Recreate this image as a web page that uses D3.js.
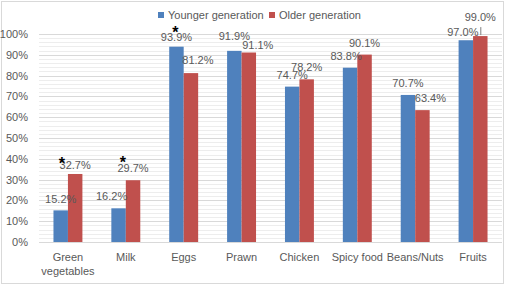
<!DOCTYPE html>
<html>
<head>
<meta charset="utf-8">
<script src="https://cdn.jsdelivr.net/npm/d3@7"></script>
<style>
  html, body { margin: 0; padding: 0; background: #fff; }
  svg { display: block; font-family: "Liberation Sans", Arial, sans-serif; }
</style>
</head>
<body>
<svg width="509" height="285"></svg>
<script>
const categories = ["Green\nvegetables", "Milk", "Eggs", "Prawn", "Chicken", "Spicy food", "Beans/Nuts", "Fruits"];
const younger = [15.2, 16.2, 93.9, 91.9, 74.7, 83.8, 70.7, 97.0];
const older = [32.7, 29.7, 81.2, 91.1, 78.2, 90.1, 63.4, 99.0];
const seriesNames = ["Younger generation", "Older generation"];
const yTicks = [0, 10, 20, 30, 40, 50, 60, 70, 80, 90, 100];
// categories marked as significant (asterisk)
const starred = ["Green\nvegetables", "Milk", "Eggs"];

const svg = d3.select("svg");
const width = +svg.attr("width");
const height = +svg.attr("height");
const margin = { top: 34, right: 7, bottom: 43, left: 39 };
const colors = ["#4F81BD", "#C0504D"];
const textColor = "#595959";

// label nudges (dx, dy) where labels were moved by hand in the original
const nudgeY = [[0, 1], [-7, 0], [0, 2], [0, -3], [0, 0], [-4, 0], [0, 0], [-3, 4]];
const nudgeO = [[0, 3], [0, 0], [7, -1], [9, 4], [0, 0], [0, 0], [8, 0], [0, -7]];

// outer chart border
svg.append("rect")
    .attr("x", 1.5).attr("y", 1.5)
    .attr("width", 502).attr("height", 282)
    .attr("fill", "none")
    .attr("stroke", "#d9d9d9");

const x0 = d3.scaleBand()
    .domain(categories)
    .range([margin.left, width - margin.right])
    .paddingInner(0.5)
    .paddingOuter(0.25);

const x1 = d3.scaleBand()
    .domain([0, 1])
    .range([0, x0.bandwidth()]);

const y = d3.scaleLinear()
    .domain([0, 100])
    .range([height - margin.bottom, margin.top]);

// minor gridlines
svg.append("g")
    .selectAll("line")
    .data(d3.range(0, 101, 2).filter(v => v % 10 !== 0))
    .enter().append("line")
    .attr("x1", margin.left).attr("x2", width - margin.right)
    .attr("y1", d => Math.round(y(d)) + 0.5).attr("y2", d => Math.round(y(d)) + 0.5)
    .attr("stroke", "#ededed");

// major gridlines
svg.append("g")
    .selectAll("line")
    .data(yTicks)
    .enter().append("line")
    .attr("x1", margin.left).attr("x2", width - margin.right)
    .attr("y1", d => Math.round(y(d)) + 0.5).attr("y2", d => Math.round(y(d)) + 0.5)
    .attr("stroke", "#d9d9d9");

// y axis labels
const yAxis = svg.append("g")
    .attr("transform", `translate(${margin.left},0)`)
    .call(d3.axisLeft(y).tickValues(yTicks).tickFormat(d => d + "%").tickSize(0).tickPadding(11));
yAxis.select(".domain").remove();
yAxis.selectAll("text")
    .attr("fill", textColor)
    .style("font-size", "11px")
    .style("font-family", "Liberation Sans, Arial, sans-serif");

// bars
const series = [younger, older];
const groups = svg.append("g")
    .selectAll("g")
    .data(categories)
    .enter().append("g")
    .attr("transform", d => `translate(${x0(d)},0)`);

groups.selectAll("rect")
    .data((d, i) => series.map((s, k) => ({ k, v: s[i] })))
    .enter().append("rect")
    .attr("x", d => x1(d.k))
    .attr("width", x1.bandwidth())
    .attr("y", d => y(d.v))
    .attr("height", d => y(0) - y(d.v))
    .attr("fill", d => colors[d.k]);

// data labels
groups.selectAll("text.val")
    .data((d, i) => series.map((s, k) => ({ k, v: s[i], n: (k === 0 ? nudgeY : nudgeO)[i] })))
    .enter().append("text")
    .attr("class", "val")
    .attr("x", d => x1(d.k) + x1.bandwidth() / 2 + d.n[0])
    .attr("y", d => y(d.v) - 12 + d.n[1])
    .attr("text-anchor", "middle")
    .attr("dominant-baseline", "central")
    .attr("fill", textColor)
    .style("font-size", "11px")
    .text(d => d.v.toFixed(1) + "%");

// leader line for the Fruits older label
const last = categories[categories.length - 1];
svg.append("line")
    .attr("x1", x0(last) + x1(1) + x1.bandwidth() / 2 + 0.5)
    .attr("x2", x0(last) + x1(1) + x1.bandwidth() / 2 + 0.5)
    .attr("y1", y(older[older.length - 1]) - 9)
    .attr("y2", y(older[older.length - 1]) - 1)
    .attr("stroke", "#7f7f7f");

// asterisks
const starPos = {
    "Green\nvegetables": [x1(0) + x1.bandwidth() - 6, y(older[0]) - 10],
    "Milk": [x1(1) - 3, y(older[1]) - 18],
    "Eggs": [x1(0) + x1.bandwidth() / 2 - 1, y(younger[2]) - 14]
};
starred.forEach(c => {
    svg.append("text")
        .attr("x", x0(c) + starPos[c][0])
        .attr("y", starPos[c][1])
        .attr("text-anchor", "middle")
        .attr("dominant-baseline", "central")
        .attr("fill", "#000")
        .style("font-size", "16px")
        .style("font-weight", "bold")
        .text("*");
});

// x axis labels
const xLabels = svg.append("g")
    .selectAll("text")
    .data(categories)
    .enter().append("text")
    .attr("x", d => x0(d) + x0.bandwidth() / 2)
    .attr("y", height - margin.bottom + 15)
    .attr("text-anchor", "middle")
    .attr("dominant-baseline", "central")
    .attr("fill", textColor)
    .style("font-size", "11px");
xLabels.selectAll("tspan")
    .data(d => d.split("\n"))
    .enter().append("tspan")
    .attr("x", function () { return d3.select(this.parentNode).attr("x"); })
    .attr("dy", (d, i) => i === 0 ? 0 : 14)
    .text(d => d);

// legend
const legend = svg.append("g")
    .selectAll("g")
    .data(seriesNames)
    .enter().append("g")
    .attr("transform", (d, i) => `translate(${i === 0 ? 158 : 269},11)`);
legend.append("rect")
    .attr("width", 6).attr("height", 6)
    .attr("y", 1)
    .attr("fill", (d, i) => colors[i]);
legend.append("text")
    .attr("x", 10)
    .attr("y", 4)
    .attr("dominant-baseline", "central")
    .attr("fill", textColor)
    .style("font-size", "11px")
    .text(d => d);
</script>
</body>
</html>
